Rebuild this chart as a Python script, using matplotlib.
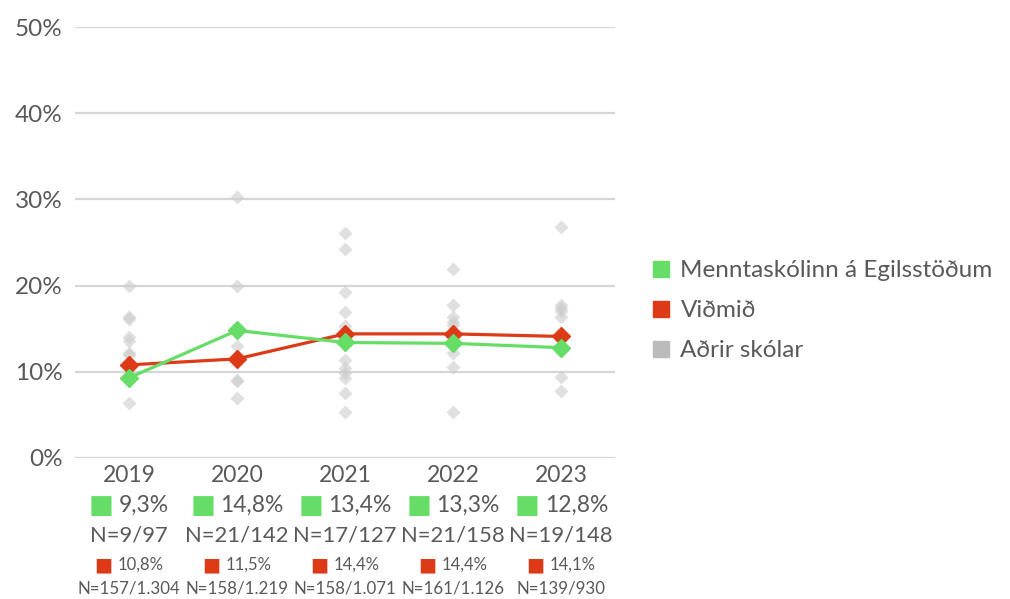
import numpy as np
import matplotlib.pyplot as plt
from matplotlib.lines import Line2D
from matplotlib.offsetbox import TextArea, HPacker, AnnotationBbox
import matplotlib.transforms as mtransforms

plt.rcParams['font.family'] = ['Lato', 'DejaVu Sans']

years = ['2019', '2020', '2021', '2022', '2023']
skoli = [9.3, 14.8, 13.4, 13.3, 12.8]
vidmid = [10.8, 11.5, 14.4, 14.4, 14.1]
skoli_n = ['N=9/97', 'N=21/142', 'N=17/127', 'N=21/158', 'N=19/148']
vidmid_n = ['N=157/1.304', 'N=158/1.219', 'N=158/1.071', 'N=161/1.126', 'N=139/930']

# adrir skolar (gray diamonds)
adrir = [
    [19.9, 16.4, 16.1, 14.0, 13.6, 12.2, 12.0, 6.4],
    [30.3, 20.0, 13.0, 9.0, 8.9, 7.0],
    [26.1, 24.2, 19.3, 16.9, 15.3, 11.4, 10.4, 9.9, 9.3, 7.5, 5.3],
    [21.9, 17.7, 16.4, 15.8, 15.4, 12.2, 10.6, 5.3],
    [26.8, 17.7, 17.4, 17.0, 16.4, 9.4, 7.8],
]

green = '#66dd66'
red = '#dd3a17'
gray_txt = '#595959'
grid_c = '#d6d6d6'

fig = plt.figure(figsize=(10.10, 5.99), dpi=100)
ax = fig.add_axes([0.0743, 0.2354, 0.5347, 0.7195])

x = np.arange(len(years))
for i, vals in enumerate(adrir):
    ax.plot([i] * len(vals), vals, 'D', color='#cccccc', alpha=0.6, ms=7, mec='none', zorder=2)

ax.plot(x, vidmid, '-D', color=red, lw=2.3, ms=9, zorder=3)
ax.plot(x, skoli, '-D', color=green, lw=2.3, ms=9, zorder=4)

ax.set_xlim(-0.5, 4.5)
ax.set_ylim(0, 50)
ax.set_yticks([0, 10, 20, 30, 40, 50])
ax.set_yticklabels(['0%', '10%', '20%', '30%', '40%', '50%'])
ax.tick_params(axis='y', length=0, pad=9, labelsize=17.5, labelcolor=gray_txt)
ax.set_xticks([])
ax.grid(axis='y', color=grid_c, lw=1.6)
ax.set_axisbelow(True)
for s in ax.spines.values():
    s.set_visible(False)

trans = mtransforms.blended_transform_factory(ax.transData, fig.transFigure)


def fy(py):
    return 1 - py / 599


def sq_label(i, py, color, txt, size):
    box = HPacker(children=[
        TextArea('■', textprops=dict(color=color, size=size * 1.15)),
        TextArea(txt, textprops=dict(color=gray_txt, size=size)),
    ], align='center', pad=0, sep=4)
    ab = AnnotationBbox(box, (i, fy(py)), xycoords=trans, frameon=False,
                        box_alignment=(0.5, 0.5), annotation_clip=False)
    fig.add_artist(ab)


for i in range(len(years)):
    fig.text(i, fy(476), years[i], transform=trans, ha='center', va='center',
             size=16.5, color=gray_txt)
    sq_label(i, 505, green, f'{skoli[i]:.1f}%'.replace('.', ','), 16.5)
    fig.text(i, fy(535), skoli_n[i], transform=trans, ha='center', va='center',
             size=15.8, color=gray_txt)
    sq_label(i, 565, red, f'{vidmid[i]:.1f}%'.replace('.', ','), 12)
    fig.text(i, fy(589), vidmid_n[i], transform=trans, ha='center', va='center',
             size=12.2, color=gray_txt)

handles = [
    Line2D([], [], ls='none', marker='s', ms=11, color=green),
    Line2D([], [], ls='none', marker='s', ms=11, color=red),
    Line2D([], [], ls='none', marker='s', ms=11, color='#bbbbbb'),
]
labels = ['Menntaskólinn á Egilsstöðum', 'Viðmið', 'Aðrir skólar']
fig.legend(handles, labels, loc='center left', bbox_to_anchor=(0.634, 0.481),
           frameon=False, fontsize=17.5, labelcolor=gray_txt, handlelength=0.7,
           handletextpad=0.45, labelspacing=0.78, borderpad=0)

fig.savefig('out.png', dpi=100)
